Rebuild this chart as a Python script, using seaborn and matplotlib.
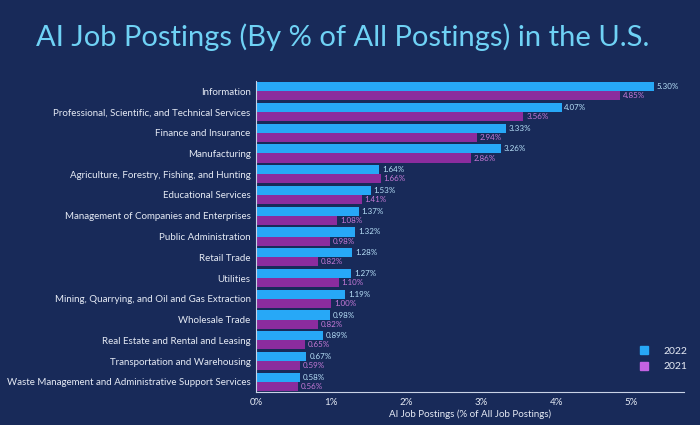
import pandas as pd
import seaborn as sns
import matplotlib.pyplot as plt

industries = [
    "Information",
    "Professional, Scientific, and Technical Services",
    "Finance and Insurance",
    "Manufacturing",
    "Agriculture, Forestry, Fishing, and Hunting",
    "Educational Services",
    "Management of Companies and Enterprises",
    "Public Administration",
    "Retail Trade",
    "Utilities",
    "Mining, Quarrying, and Oil and Gas Extraction",
    "Wholesale Trade",
    "Real Estate and Rental and Leasing",
    "Transportation and Warehousing",
    "Waste Management and Administrative Support Services",
]
pct_2022 = [5.30, 4.07, 3.33, 3.26, 1.64, 1.53, 1.37, 1.32, 1.28, 1.27, 1.19, 0.98, 0.89, 0.67, 0.58]
pct_2021 = [4.85, 3.56, 2.94, 2.86, 1.66, 1.41, 1.08, 0.98, 0.82, 1.10, 1.00, 0.82, 0.65, 0.59, 0.56]
years = ["2022", "2021"]

bg = "#182a59"
blue = "#27a8f7"
purple = "#8b2c9e"

df = pd.DataFrame({
    "industry": industries * 2,
    "year": ["2022"] * len(industries) + ["2021"] * len(industries),
    "pct": pct_2022 + pct_2021,
})

sns.set_theme(style="white")
plt.rcParams["font.family"] = ["Lato", "DejaVu Sans"]

fig, ax = plt.subplots(figsize=(7, 4.25), dpi=100)
fig.patch.set_facecolor(bg)
ax.set_facecolor(bg)

sns.barplot(data=df, x="pct", y="industry", hue="year", hue_order=years,
            palette=[blue, purple], width=0.88, ax=ax, saturation=1,
            edgecolor="none", legend=False)

label_colors = ["#b9e2fa", "#c77ad8"]
for cont, vals, col in zip(ax.containers, [pct_2022, pct_2021], label_colors):
    ax.bar_label(cont, labels=[f"{v:.2f}%" for v in vals], padding=2,
                 fontsize=5.8, color=col)

ax.set_xlim(0, 5.7)
ax.set_xticks([0, 1, 2, 3, 4, 5])
ax.set_xticklabels([f"{i}%" for i in range(6)])
ax.tick_params(axis="x", colors="#e6ebf5", labelsize=7, length=0, pad=4)
ax.tick_params(axis="y", colors="#e6ebf5", labelsize=7.0, length=0, pad=4)
ax.set_ylabel("")
ax.set_xlabel("AI Job Postings (% of All Job Postings)", color="#e6ebf5", fontsize=7, labelpad=2)

for s in ["top", "right"]:
    ax.spines[s].set_visible(False)
for s in ["left", "bottom"]:
    ax.spines[s].set_color("#c9d2e6")
    ax.spines[s].set_linewidth(0.8)

handles = [plt.Rectangle((0, 0), 1, 1, color=blue), plt.Rectangle((0, 0), 1, 1, color="#c463e3")]
leg = ax.legend(handles, years, loc="lower right", bbox_to_anchor=(1.03, 0.037), frameon=False,
                fontsize=7.5, handlelength=0.8, handleheight=0.8, handletextpad=1.5, labelspacing=0.6)
for t in leg.get_texts():
    t.set_color("#e6ebf5")

fig.suptitle("AI Job Postings (By % of All Postings) in the U.S.", x=0.49, y=0.945,
             color="#6fd2f5", fontsize=21)

fig.subplots_adjust(left=0.366, right=0.977, top=0.81, bottom=0.077)
fig.savefig("out.png", facecolor=bg)
